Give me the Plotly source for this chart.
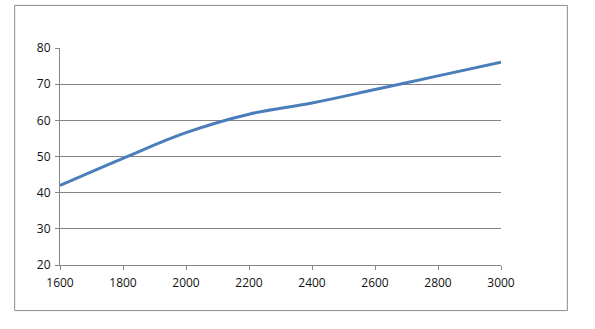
import plotly.graph_objects as go

x_vals = [1600, 1800, 2000, 2200, 2400, 2600, 2800, 3000]
y_vals = [42.0, 49.5, 56.6, 61.7, 64.8, 68.5, 72.3, 76.1]
x_ticks = [1600, 1800, 2000, 2200, 2400, 2600, 2800, 3000]
y_ticks = [20, 30, 40, 50, 60, 70, 80]

fig = go.Figure()
fig.add_trace(go.Scatter(
    x=x_vals, y=y_vals, mode="lines",
    line=dict(color="#4A7EBB", width=3, shape="spline", smoothing=1.1),
    hoverinfo="skip", showlegend=False,
))

L, R, T, B = 60, 94.3, 47.7, 63.7
pw = 595 - L - R
ph = 329 - T - B

fig.update_layout(
    width=595, height=329,
    margin=dict(l=L, r=R, t=T, b=B, pad=0),
    paper_bgcolor="white", plot_bgcolor="white",
    font=dict(family="Open Sans, Liberation Sans, sans-serif", size=12, color="#111"),
    xaxis=dict(
        range=[1600, 3000], tickvals=x_ticks, ticktext=[str(v) for v in x_ticks],
        showgrid=False, zeroline=False, showline=True, linecolor="#868686", linewidth=1,
        ticks="outside", ticklen=4, tickcolor="#868686", tickwidth=1,
        tickfont=dict(size=12, color="#111"), ticklabelstandoff=3,
    ),
    yaxis=dict(
        range=[20, 80], tickvals=y_ticks, ticktext=[str(v) for v in y_ticks],
        showgrid=True, gridcolor="#868686", gridwidth=1, zeroline=False,
        showline=True, linecolor="#868686", linewidth=1,
        ticks="outside", ticklen=4, tickcolor="#868686", tickwidth=1,
        tickfont=dict(size=12, color="#111"), ticklabelstandoff=2,
    ),
    shapes=[dict(
        type="rect", xref="paper", yref="paper",
        x0=(14.7 - L) / pw, x1=(567 - L) / pw,
        y0=(329 - B - 311) / ph, y1=(329 - B - 5) / ph,
        line=dict(color="#8C8C8C", width=1), fillcolor="rgba(0,0,0,0)", layer="below",
    )],
)

fig.write_html("out.html")
